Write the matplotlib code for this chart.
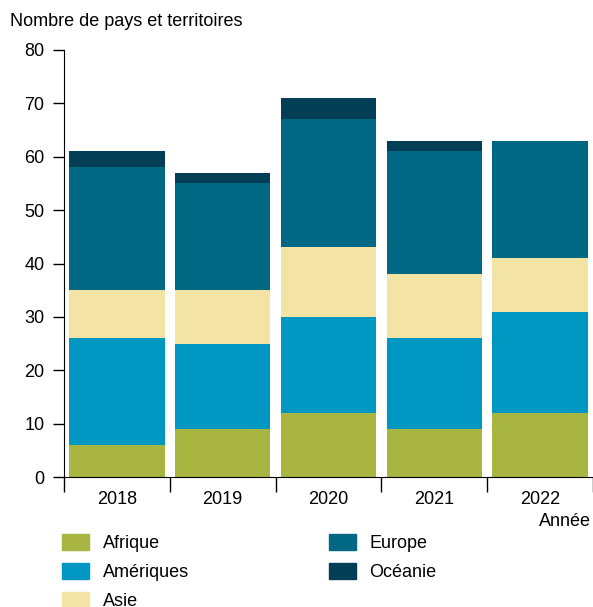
import numpy as np
import matplotlib.pyplot as plt
from matplotlib.patches import Patch

plt.rcParams['font.family'] = ['Liberation Sans', 'DejaVu Sans']

annees = ['2018', '2019', '2020', '2021', '2022']
regions = ['Afrique', 'Amériques', 'Asie', 'Europe', 'Océanie']
afrique = [6, 9, 12, 9, 12]
ameriques = [20, 16, 18, 17, 19]
asie = [9, 10, 13, 12, 10]
europe = [23, 20, 24, 23, 22]
oceanie = [3, 2, 4, 2, 0]
couleurs = ['#a8b540', '#0097c2', '#f3e3a5', '#006882', '#023f56']

series = [afrique, ameriques, asie, europe, oceanie]

fig = plt.figure(figsize=(5.93, 6.07), dpi=100)
ax = fig.add_axes([64/593, 1-477/607, 529/593, 427/607])

x = np.arange(len(annees))
bas = np.zeros(len(annees))
for vals, nom, c in zip(series, regions, couleurs):
    ax.bar(x, vals, width=0.9, bottom=bas, color=c, label=nom)
    bas += np.array(vals)

ax.set_xlim(-0.5, 4.5)
ax.set_ylim(0, 80)
ax.set_yticks(range(0, 81, 10))
ax.set_xticks(x)
ax.set_xticklabels(annees)
ax.set_xticks(np.arange(-0.5, 5, 1), minor=True)
ax.tick_params(axis='x', which='major', length=0, labelsize=13, pad=10)
ax.tick_params(axis='x', which='minor', length=11, width=1, direction='out')
ax.tick_params(axis='y', length=8, width=1, labelsize=13, pad=6)
for s in ['top', 'right']:
    ax.spines[s].set_visible(False)

fig.text(10/593, 1-22/607, 'Nombre de pays et territoires', fontsize=13, va='center', ha='left')
fig.text(591/593, 1-521/607, 'Année', fontsize=13, va='center', ha='right')

handles = [Patch(color=c, label=n) for n, c in zip(regions, couleurs)]
fig.legend(handles=handles, ncol=2, loc='upper left', bbox_to_anchor=(46/593, 1-518/607),
           frameon=False, fontsize=13, handlelength=1.5, handleheight=0.95,
           handletextpad=0.75, columnspacing=7.75, labelspacing=0.6)

fig.savefig('out.png', dpi=100)
